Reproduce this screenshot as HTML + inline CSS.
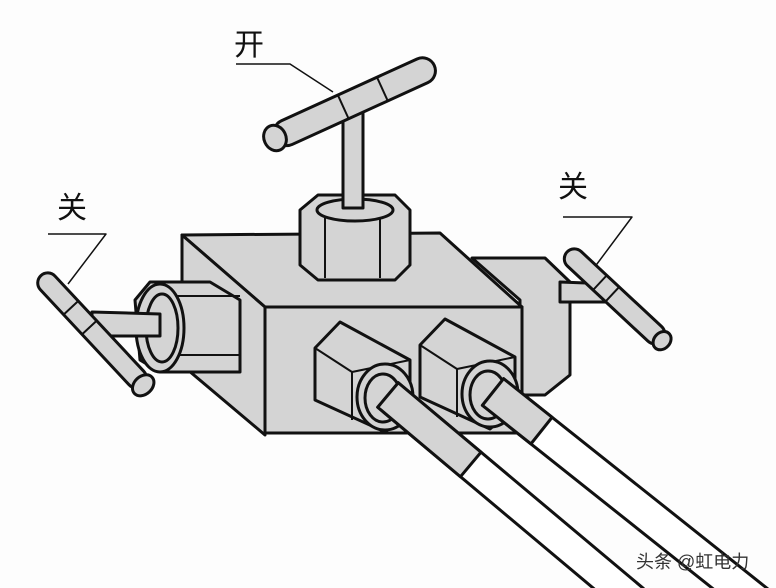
<!DOCTYPE html>
<html><head><meta charset="utf-8"><style>html,body{margin:0;padding:0;background:#fff}svg{display:block}</style></head>
<body>
<svg width="776" height="588" viewBox="0 0 776 588" xmlns="http://www.w3.org/2000/svg" font-family="'Liberation Sans','Noto Sans CJK SC',sans-serif">
<rect width="776" height="588" fill="#fdfdfd"/>
<g stroke="#111" stroke-width="3" stroke-linejoin="round" fill="#d4d4d4">
<g fill="none" stroke-width="1.5">
<polyline points="236,64 290,64 333,92"/>
<polyline points="48,234 106,234 68,284"/>
<polyline points="563,217 632,217 588,276"/>
</g>
<!-- right nut (behind) -->
<polygon points="472,258 545,258 570,282 570,375 545,395 520,395 520,300"/>
<!-- right handle -->
<polygon points="560,282 612,284 614,302 560,302"/>
<g transform="translate(567,252) rotate(43)"><rect x="0" y="-10" width="130" height="20" rx="10"/><ellipse cx="130" cy="0" rx="8" ry="10"/><line x1="45" y1="-10" x2="45" y2="10" stroke-width="2"/><line x1="62" y1="-10" x2="62" y2="10" stroke-width="2"/></g>
<!-- block -->
<polygon points="182,235 440,233 522,307 265,307"/>
<polygon points="182,235 265,307 265,435 182,365"/>
<polygon points="265,307 522,307 522,433 265,433"/>
<!-- top nut & stem -->
<path d="M300,210 L318,195 L395,195 L410,210 L410,265 L395,280 L318,280 L300,265 Z"/>
<line x1="325" y1="212" x2="325" y2="278" stroke-width="2"/>
<line x1="380" y1="212" x2="380" y2="278" stroke-width="2"/>
<ellipse cx="355" cy="210" rx="38" ry="11"/>
<rect x="343" y="112" width="20" height="96"/>
<g transform="translate(275,138) rotate(-24.5)"><rect x="0" y="-13" width="175" height="26" rx="13"/><ellipse cx="0" cy="0" rx="11" ry="13"/><line x1="75" y1="-13" x2="75" y2="13" stroke-width="2"/><line x1="118" y1="-13" x2="118" y2="13" stroke-width="2"/></g>
<!-- left nut -->
<polygon points="150,282 210,282 240,300 240,372 160,372 140,360 135,300"/>
<line x1="175" y1="296" x2="240" y2="296" stroke-width="2"/>
<line x1="175" y1="355" x2="240" y2="355" stroke-width="2"/>
<ellipse cx="160" cy="328" rx="24" ry="44"/>
<ellipse cx="162" cy="328" rx="16" ry="34"/>
<polygon points="92,312 160,314 160,336 92,336"/>
<g transform="translate(45,280) rotate(47)"><rect x="-6" y="-10" width="150" height="20" rx="10"/><ellipse cx="144" cy="0" rx="9" ry="12"/><line x1="38" y1="-10" x2="38" y2="10" stroke-width="2"/><line x1="65" y1="-10" x2="65" y2="10" stroke-width="2"/></g>
<!-- front nuts -->
<g id="n1">
<polygon points="315,348 340,322 410,360 410,410 385,432 315,400"/>
<polyline points="315,348 352,372 410,360" fill="none" stroke-width="2"/>
<line x1="352" y1="372" x2="352" y2="420" stroke-width="2"/>
<ellipse cx="385" cy="397" rx="28" ry="33"/>
<ellipse cx="383" cy="398" rx="18" ry="24"/>
</g>
<use href="#n1" transform="translate(105,-3)"/>
<!-- pipes -->
<g transform="translate(388,395) rotate(40)">
<rect x="0" y="-16" width="320" height="32" fill="#fff"/>
<rect x="0" y="-16" width="108" height="32"/>
</g>
<g transform="translate(493,392) rotate(38.5)">
<rect x="0" y="-17" width="340" height="34" fill="#fff"/>
<rect x="0" y="-17" width="62" height="34"/>
</g>
</g>
<g font-size="30" fill="#111">
<text x="234" y="55">开</text>
<text x="57" y="218">关</text>
<text x="558" y="197">关</text>
</g>
<text x="636" y="568" font-size="18" fill="#333">头条 @虹电力</text>
</svg>
</body></html>
